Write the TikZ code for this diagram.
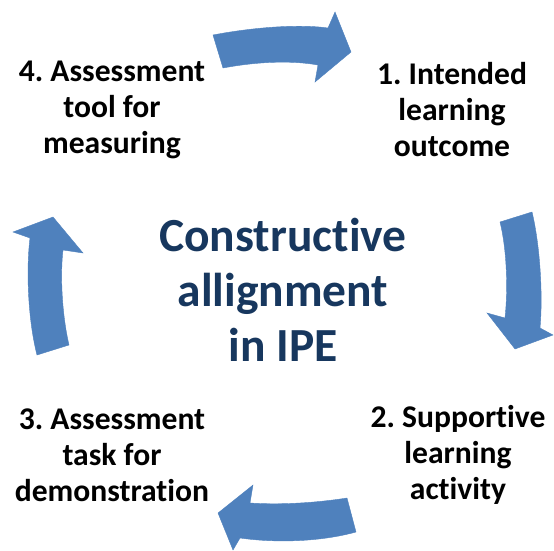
\documentclass[tikz,border=0pt]{standalone}
\usepackage{fontspec}
\setmainfont[Ligatures=NoCommon]{Carlito}
\definecolor{arrowblue}{HTML}{4F81BD}
\definecolor{titleblue}{HTML}{17375E}
\frenchspacing
\begin{document}
\begin{tikzpicture}[x=1pt,y=-1pt,
  blockarrow/.style={fill=arrowblue, draw=arrowblue, line width=0.4pt, line join=miter},
  steplabel/.style={align=center, font=\bfseries\fontsize{31.6}{36}\selectfont, text=black, inner sep=0pt},
  titlelabel/.style={align=center, font=\bfseries\fontsize{47.5}{55}\selectfont, text=titleblue, inner sep=0pt}]
\useasboundingbox (0,0) rectangle (554,551);
% top arrow
\path[blockarrow] (213,35) .. controls (255,27) and (300,24) .. (328,28)
  -- (335,12) -- (351,52) -- (315,82) -- (318,65)
  .. controls (290,60) and (255,62) .. (223,68) -- cycle;
% right arrow
\path[blockarrow] (500,222) -- (532,212) .. controls (540,245) and (543,295) .. (540,328)
  -- (553,335) -- (515,349) -- (487,313) -- (505,318)
  .. controls (508,290) and (507,250) .. (500,222) -- cycle;
% bottom arrow
\path[blockarrow] (347,498) .. controls (315,503) and (280,505) .. (250,503)
  -- (253,485) -- (218,513) -- (233,550) -- (240,538)
  .. controls (275,543) and (320,542) .. (356,532) -- cycle;
% left arrow
\path[blockarrow] (37,355) .. controls (28,320) and (26,270) .. (30,238)
  -- (13,232) -- (53,217) -- (83,253) -- (63,250)
  .. controls (60,275) and (62,315) .. (69,345) -- cycle;
% labels
\node[steplabel] (s4) at (112,110) {4. Assessment\\tool for\\measuring};
\node[steplabel] (s1) at (452,110) {1. Intended\\learning\\outcome};
\node[steplabel] (s2) at (458,455) {2. Supportive\\learning\\activity};
\node[steplabel] (s3) at (112,455) {3. Assessment\\task for\\demonstration};
\node[titlelabel] (title) at (283,290) {Constructive\\allignment\\in IPE};
\end{tikzpicture}
\end{document}
